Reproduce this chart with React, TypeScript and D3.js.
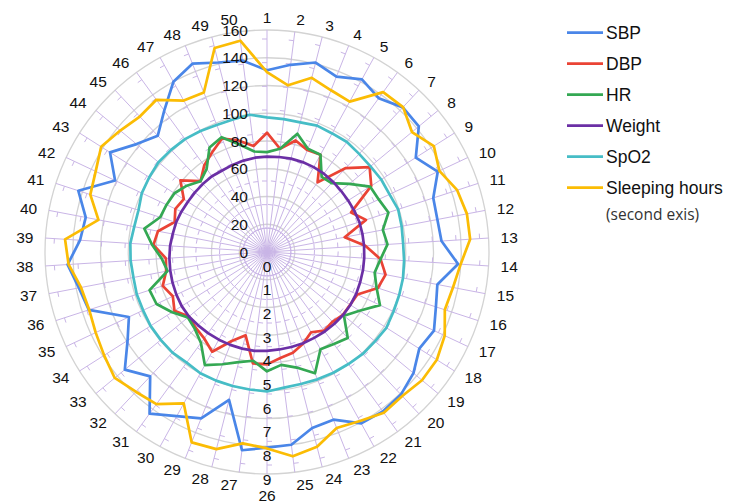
import React from 'react';
import * as d3 from 'd3';

const categories = ['1','2','3','4','5','6','7','8','9','10','11','12','13','14','15','16','17','18','19','20','21','22','23','24','25','26','27','28','29','30','31','32','33','34','35','36','37','38','39','40','41','42','43','44','45','46','47','48','49','50'];

const sbp = [131,136,141,136,142,137,143,142,127,136,126,125,126,138,125,128,133,130,137,141,142,141,130,131,140,141,144,110,129,135,144,123,133,119,110,135,138,144,135,133,143,121,134,122,115,126,140,146,141,139];
const dbp = [86,75,83,79,80,62,83,96,89,67,75,57,71,82,87,84,72,71,71,69,70,66,71,75,77,81,81,62,69,82,77,75,73,79,75,79,74,73,82,80,70,73,71,81,70,77,82,88,83,77];
const hr = [72,75,88,80,80,67,68,77,88,89,92,85,87,82,79,83,90,79,72,85,82,80,94,86,82,86,79,82,87,93,81,76,74,81,88,89,73,76,83,90,81,80,79,75,70,74,86,89,80,73];
const weight = [68.7,69,69.5,69.7,69.8,69.8,69.5,69.2,69.3,69.6,70,70,70.1,70.2,70.4,70.6,71,71.2,71.2,71,70.8,70.6,70.7,70.7,70.8,71.2,71.8,71.9,72,72.1,72.3,72.5,73,72.8,72.2,71.6,71,70.5,70,69.2,68.9,68.2,67.5,67.4,67.4,67.5,67,67.5,68,68.5];
const spo2 = [97,96.5,96.5,98,97.5,98,97,96.8,97.5,97.6,99.4,98.8,98.3,99,99.8,100.2,100.8,101.9,101,100.8,99.8,99.3,98.7,98.2,98.5,100.5,99.9,99.7,99.7,99.7,98.5,99.5,99.4,99.4,98.7,98.7,98,98.5,98.7,97.4,97.4,99.7,100.5,101.5,101,100.6,99.5,98.5,98.6,99.7];
const sleep = [7.6,7.1,7.6,7.35,7.25,8.35,8.4,7.95,8.35,8.05,8.45,8.6,8.6,8.2,8.0,7.9,8.3,8.5,8.5,8.35,8.4,8.15,8.0,8.5,8.7,8.3,8.15,8.6,8.65,7.3,7.95,8.1,8.35,8.15,8.0,7.9,8.0,8.4,8.55,7.25,7.85,8.0,8.3,8.05,7.85,7.95,7.3,7.25,8.9,9.0];

const primaryTicks = [0,20,40,60,80,100,120,140,160];
const secondaryTicks = [0,1,2,3,4,5,6,7,8,9];

const seriesNames = ['SBP','DBP','HR','Weight','SpO2','Sleeping hours'];
const seriesColors = ['#4a86e8','#ea4335','#34a853','#6b2fa5','#46bdc6','#fbbc04'];

export default function App() {
  const W = 729, H = 504;
  const cx = 267, cy = 252, R = 222;
  const N = categories.length;
  const rP = d3.scaleLinear().domain([0, 160]).range([0, R]);
  const rS = d3.scaleLinear().domain([0, 9]).range([0, 213]);
  const ang = d3.scaleLinear().domain([0, N]).range([0, 2 * Math.PI]);

  const lineP = d3.lineRadial<number>().angle((_, i) => ang(i)).radius(d => rP(d)).curve(d3.curveLinearClosed);
  const lineS = d3.lineRadial<number>().angle((_, i) => ang(i)).radius(d => rS(d)).curve(d3.curveLinearClosed);

  const seriesData = [sbp, dbp, hr, weight, spo2];
  const font = '"Liberation Sans", Arial, sans-serif';

  return (
    <svg width={W} height={H} style={{ position: 'absolute', left: 0, top: 0, background: '#fff' }}>
      <g transform={`translate(${cx},${cy})`}>
        {primaryTicks.slice(1).map(v => (
          <circle key={'g' + v} r={rP(v)} fill="none" stroke="#d3d3d3" strokeWidth={1.3} />
        ))}
        {categories.map((c, i) => {
          const a = ang(i);
          const s = Math.sin(a), co = Math.cos(a);
          return (
            <g key={'sp' + i}>
              <line x1={0} y1={0} x2={s * R} y2={-co * R} stroke="#c9b5e6" strokeWidth={1} />
              {secondaryTicks.slice(1).map(k => {
                const r = rS(k);
                const px = s * r, py = -co * r;
                return (
                  <line key={k} x1={px} y1={py} x2={px - co * 5} y2={py - s * 5} stroke="#c9b5e6" strokeWidth={1} />
                );
              })}
            </g>
          );
        })}
        {seriesData.map((d, i) => (
          <path key={'s' + i} d={lineP(d) || ''} fill="none" stroke={seriesColors[i]} strokeWidth={2.7} strokeLinejoin="round" />
        ))}
        <path d={lineS(sleep) || ''} fill="none" stroke={seriesColors[5]} strokeWidth={2.7} strokeLinejoin="round" />
        {primaryTicks.map(v => (
          <text key={'pl' + v} x={-19} y={-rP(v)} textAnchor="end" dominantBaseline="central" fontFamily={font} fontSize={15.5} fill="#111">{v}</text>
        ))}
        {secondaryTicks.map(k => (
          <text key={'sl' + k} x={0} y={rS(k) + 14} textAnchor="middle" dominantBaseline="central" fontFamily={font} fontSize={15.5} fill="#111">{k}</text>
        ))}
        {categories.map((c, i) => {
          const a = ang(i);
          const s = Math.sin(a), co = Math.cos(a);
          const dist = 234;
          const anchor = s > 0.01 ? 'start' : s < -0.01 ? 'end' : 'middle';
          const dy = co < -0.999 ? 9 : co > 0.999 ? -1 : 0;
          return (
            <text key={'cl' + i} x={s * dist} y={-co * dist + dy} textAnchor={anchor} dominantBaseline="central" fontFamily={font} fontSize={15.5} fill="#111">{c}</text>
          );
        })}
      </g>
      <g>
        {seriesNames.map((n, i) => {
          const y = 32.7 + i * 31;
          return (
            <g key={'lg' + i}>
              <line x1={567} x2={603} y1={y} y2={y} stroke={seriesColors[i]} strokeWidth={2.7} />
              <text x={606} y={y} dominantBaseline="central" fontFamily={font} fontSize={17.5} fill="#111">{n}</text>
            </g>
          );
        })}
        <text x={606} y={214} dominantBaseline="central" fontFamily='"Open Sans", "Noto Sans", sans-serif' fontSize={15.5} fill="#333">(second exis)</text>
      </g>
    </svg>
  );
}
